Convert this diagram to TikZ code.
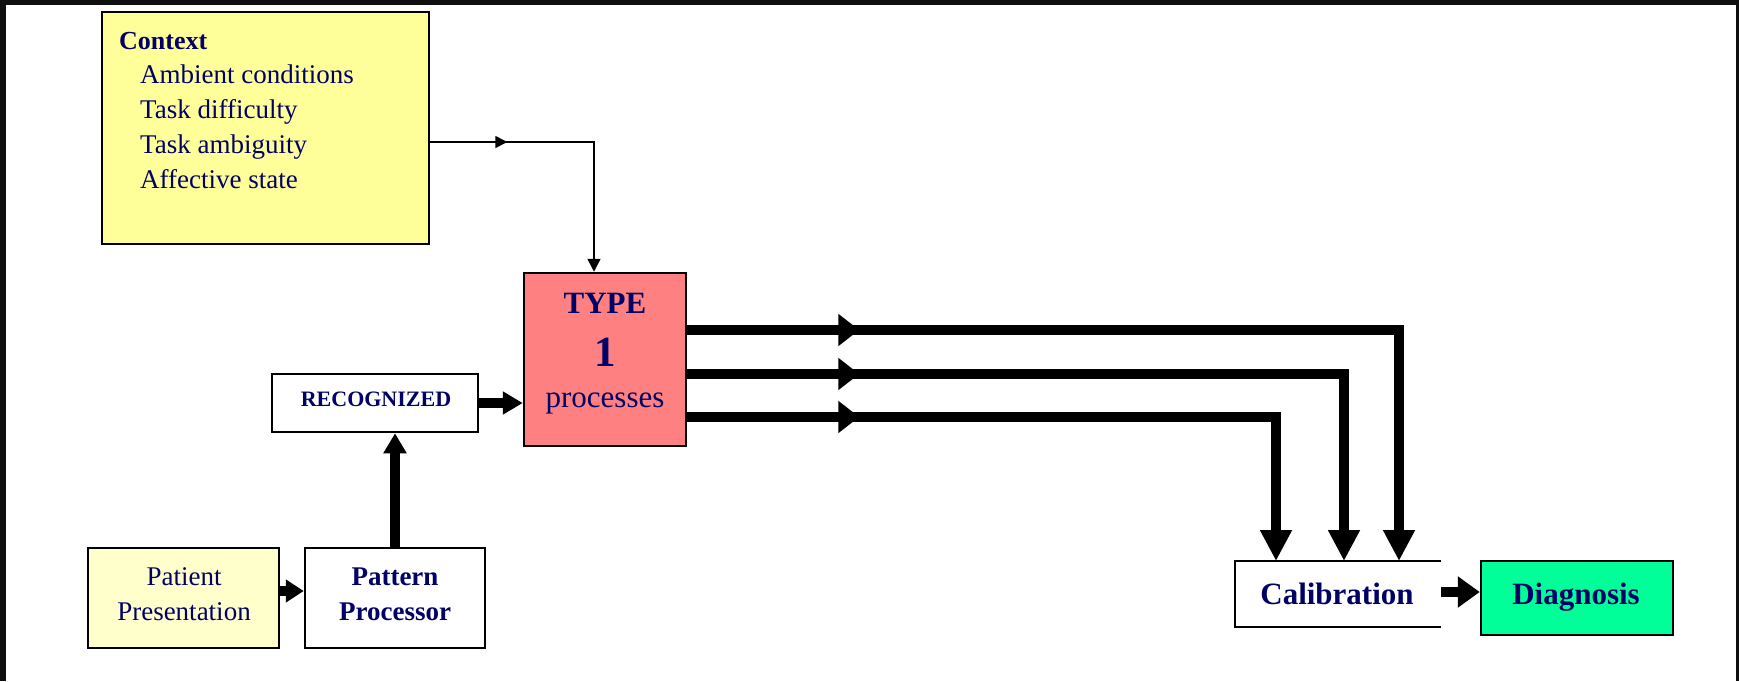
\documentclass[tikz,border=0pt]{standalone}
\usepackage{fontspec}
\setmainfont{Liberation Serif}
\usetikzlibrary{arrows.meta,decorations.markings,calc}
\definecolor{inkblue}{RGB}{0,0,102}
\definecolor{ctxfill}{RGB}{255,255,153}
\definecolor{typefill}{RGB}{255,128,128}
\definecolor{patfill}{RGB}{255,255,204}
\definecolor{diagfill}{RGB}{0,255,153}
\definecolor{edgeband}{RGB}{15,15,15}
\newcommand\fsz[2]{\fontsize{#1}{#2}\selectfont}

\begin{document}
\begin{tikzpicture}[x=1pt,y=-1pt,
  box/.style={draw=black,line width=2.5pt,inner sep=0pt},
  lbl/.style={inner sep=0pt,text=inkblue},
  heavy/.style={line width=10pt},
  thinline/.style={line width=1.6pt},
  smallhead/.style={-{Triangle[length=20pt,width=22pt]}},
  bighead/.style={-{Triangle[length=31pt,width=30pt]}},
  midbig/.style={postaction={decorate},
    decoration={markings,mark=at position 172pt with {\arrow{Triangle[length=21pt,width=31pt]}}}},
  midsmall/.style={postaction={decorate},
    decoration={markings,mark=at position 77pt with {\arrow{Triangle[length=12pt,width=12pt]}}}}
]
% page and dark edge bands
\fill[white] (0,0) rectangle (1739,681);
\useasboundingbox (0,0) rectangle (1739,681);
\fill[edgeband] (0,0) rectangle (1739,5);
\fill[edgeband] (0,0) rectangle (6,681);
\fill[edgeband] (1736,0) rectangle (1739,681);

% context box
\node[box,fill=ctxfill,minimum width=327pt,minimum height=232pt] (context) at (265.5,128) {};
\node[lbl,anchor=base west,font=\fsz{26}{30}\bfseries] (ctxhead) at (119,49) {Context};
\node[lbl,anchor=base west,font=\fsz{27}{30}] (ctxa) at (140,83) {Ambient conditions};
\node[lbl,anchor=base west,font=\fsz{27}{30}] (ctxb) at (140,118) {Task difficulty};
\node[lbl,anchor=base west,font=\fsz{27}{30}] (ctxc) at (140,153) {Task ambiguity};
\node[lbl,anchor=base west,font=\fsz{27}{30}] (ctxd) at (140,188) {Affective state};

% type 1 box
\node[box,fill=typefill,minimum width=162pt,minimum height=173pt] (type) at (605,359.5) {};
\node[lbl,anchor=base,font=\fsz{31}{31}\bfseries] (typea) at (605,313) {TYPE};
\node[lbl,anchor=base,font=\fsz{43}{43}\bfseries] (typeb) at (605,366) {1};
\node[lbl,anchor=base,font=\fsz{31}{31}] (typec) at (605,407) {processes};

% recognized box
\node[box,fill=white,minimum width=206pt,minimum height=58pt] (recog) at (375,403) {};
\node[lbl,anchor=base,font=\fsz{22}{22}\bfseries] (recogt) at (376,406) {RECOGNIZED};

% patient presentation and pattern processor
\node[box,fill=patfill,minimum width=191pt,minimum height=100pt] (patient) at (183.5,598) {};
\node[lbl,anchor=base,font=\fsz{27}{30}] (pata) at (184,585) {Patient};
\node[lbl,anchor=base,font=\fsz{27}{30}] (patb) at (184,620) {Presentation};
\node[box,fill=white,minimum width=180pt,minimum height=100pt] (pattern) at (395,598) {};
\node[lbl,anchor=base,font=\fsz{27}{30}\bfseries] (ppa) at (395,585) {Pattern};
\node[lbl,anchor=base,font=\fsz{27}{30}\bfseries] (ppb) at (395,620) {Processor};

% calibration (open on its right side) and diagnosis
\node[inner sep=0pt,outer sep=0pt,minimum width=206pt,minimum height=66pt] (cal) at (1338,594) {};
\draw[line width=2.5pt] (cal.north east) -- (cal.north west) -- (cal.south west) -- (cal.south east);
\node[lbl,anchor=base,font=\fsz{31}{31}\bfseries] (calt) at (1337,604) {Calibration};
\node[box,fill=diagfill,minimum width=192pt,minimum height=74pt] (diag) at (1577,598) {};
\node[lbl,anchor=base,font=\fsz{31}{31}\bfseries] (diagt) at (1576,604) {Diagnosis};

% connectors
\draw[thinline,midsmall,-{Triangle[length=13pt,width=13pt]}]
  (context.east |- 0,142) -| ([xshift=-11pt]type.north);
\draw[heavy,smallhead] (recog.east) -- (type.west |- recog.east);
\draw[heavy,-{Triangle[length=18pt,width=22pt]}] (patient.east |- 0,591) -- (pattern.west |- 0,591);
\draw[heavy,smallhead] (pattern.north) -- (pattern.north |- recog.south);
\draw[heavy,midbig,bighead] (type.east |- 0,330) -| ([xshift=164pt]cal.north west);
\draw[heavy,midbig,bighead] (type.east |- 0,374) -| ([xshift=109pt]cal.north west);
\draw[heavy,midbig,bighead] (type.east |- 0,417) -| ([xshift=41pt]cal.north west);
\draw[heavy,-{Triangle[length=22pt,width=30pt]}] (cal.east |- 0,592) -- (diag.west |- 0,592);
\end{tikzpicture}
\end{document}
